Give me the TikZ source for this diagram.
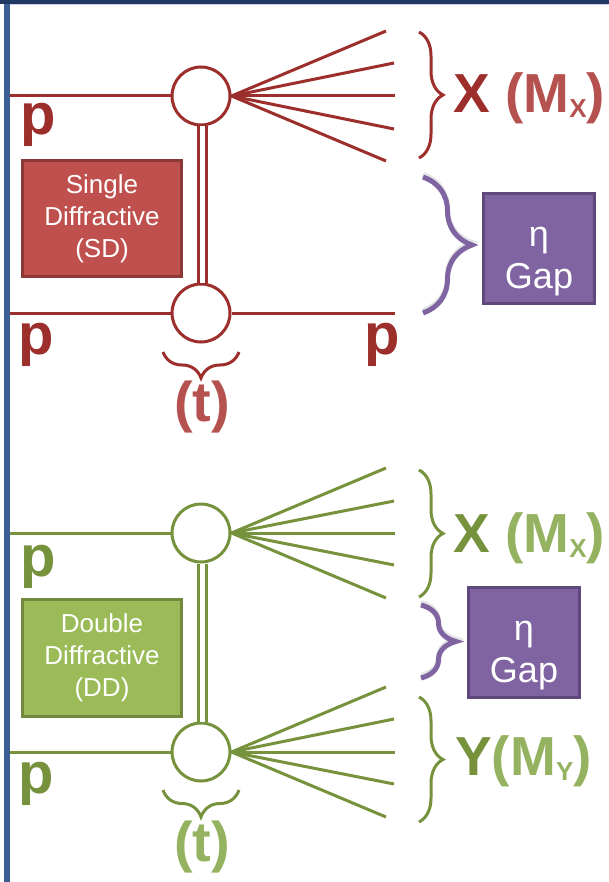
\documentclass[tikz,border=0pt]{standalone}
\usepackage{fontspec}
\setmainfont{Liberation Sans}
\usetikzlibrary{decorations.pathreplacing}
\definecolor{rline}{HTML}{9C2E2C}
\definecolor{rlight}{HTML}{B5524F}
\definecolor{rfill}{HTML}{C0504D}
\definecolor{rborder}{HTML}{8C3836}
\definecolor{gline}{HTML}{76923C}
\definecolor{glight}{HTML}{94B25F}
\definecolor{gfill}{HTML}{9BBB59}
\definecolor{gborder}{HTML}{71893F}
\definecolor{pfill}{HTML}{8064A2}
\definecolor{pborder}{HTML}{5F497A}
\definecolor{framebar}{HTML}{3B5F92}
\definecolor{frametop}{HTML}{1F3864}
\begin{document}
\begin{tikzpicture}[x=1pt,y=-1pt,
  vert/.style={circle,draw,line width=3pt,fill=white,minimum size=58pt,inner sep=0pt},
  beam/.style={line width=3pt},
  pom/.style={line width=3pt,double=white,double distance=5pt},
  infobox/.style={draw,line width=3pt,text=white,align=center,inner sep=0pt,
     font=\fontsize{26}{32}\selectfont},
  gapbox/.style={infobox,fill=pfill,draw=pborder,minimum width=111pt,minimum height=110pt,
     font=\fontsize{36}{42}\selectfont},
  plab/.style={inner sep=0pt,font=\fontsize{58}{60}\selectfont\bfseries},
  tlab/.style={inner sep=0pt,font=\fontsize{56}{60}\selectfont\bfseries},
  xlab/.style={inner sep=0pt,anchor=base west,font=\fontsize{55}{58}\selectfont\bfseries},
  cbrace/.style={decorate,decoration={brace,amplitude=#1}},
]
\useasboundingbox (0,0) rectangle (609,882);
% frame
\fill[framebar] (4,0) rectangle (10,882);
\fill[frametop] (0,0) rectangle (609,4);
\draw[line width=1pt,color=black!15!blue!20] (10,4.5) -- (609,4.5);

% ===== Single diffractive (red) =====
\begin{scope}[draw=rline,color=rline]
\node[vert,draw=rline] (c1) at (201,96) {};
\node[vert,draw=rline] (c2) at (201,313) {};
\coordinate (l1) at (10,96);
\coordinate (l2) at (10,313);
\coordinate (r2) at (395,313);
\draw[beam] (l1) -- (c1.west);
\draw[beam] (l2) -- (c2.west);
\draw[beam] (c2.east) -- (r2);
\draw[pom] ([xshift=1.5pt]c1.south) -- ([xshift=1.5pt]c2.north);
\coordinate (f1) at (386,31);
\coordinate (f2) at (394,63);
\coordinate (f3) at (395,96);
\coordinate (f4) at (394,129);
\coordinate (f5) at (386,161);
\foreach \f in {f1,f2,f3,f4,f5} \draw[beam] (c1.east) -- (\f);
\coordinate (xb1) at (419,32);
\coordinate (xb2) at (419,158);
\draw[cbrace=24pt,line width=3pt] (xb1) -- (xb2);
\coordinate (tb1) at (239,352);
\coordinate (tb2) at (163,352);
\draw[cbrace=26pt,line width=3pt] (tb1) -- (tb2);
\end{scope}
\node[xlab] (xlab1) at (453,113) {\color{rline}X \color{rlight}(M\raisebox{-5pt}{\fontsize{26}{26}\selectfont X})};
\node[plab,text=rline] (p1) at (38.5,125) {p};
\node[plab,text=rline] (p2) at (36.5,345) {p};
\node[plab,text=rline] (p3) at (382.5,345) {p};
\node[tlab,text=rlight] (t1) at (202,407) {(t)};
\node[infobox,fill=rfill,draw=rborder,minimum width=159pt,minimum height=116pt] (sd) at (102,218.5) {Single\\Diffractive\\(SD)};
\coordinate (pb1) at (423,177);
\coordinate (pb2) at (423,313);
\draw[cbrace=49pt,line width=5pt,color=black!30,opacity=0.35] ([shift={(0pt,2.5pt)}]pb1) -- ([shift={(0pt,2.5pt)}]pb2);
\draw[cbrace=49pt,line width=5pt,color=pfill] (pb1) -- (pb2);
\node[gapbox,text depth=0pt] (gap1) at (539,248.5) {\raisebox{2pt}{\parbox{100pt}{\centering η\\Gap}}};

% ===== Double diffractive (green) =====
\begin{scope}[draw=gline,color=gline]
\node[vert,draw=gline] (c3) at (201,533) {};
\node[vert,draw=gline] (c4) at (201,752) {};
\coordinate (l3) at (10,533);
\coordinate (l4) at (10,752);
\draw[beam] (l3) -- (c3.west);
\draw[beam] (l4) -- (c4.west);
\draw[pom] ([xshift=1.5pt]c3.south) -- ([xshift=1.5pt]c4.north);
\coordinate (g1) at (386,468);
\coordinate (g2) at (394,501);
\coordinate (g3) at (395,533);
\coordinate (g4) at (394,565);
\coordinate (g5) at (386,598);
\foreach \f in {g1,g2,g3,g4,g5} \draw[beam] (c3.east) -- (\f);
\coordinate (h1) at (386,687);
\coordinate (h2) at (394,719);
\coordinate (h3) at (395,752);
\coordinate (h4) at (394,784);
\coordinate (h5) at (386,817);
\foreach \f in {h1,h2,h3,h4,h5} \draw[beam] (c4.east) -- (\f);
\coordinate (xb3) at (419,470);
\coordinate (xb4) at (419,597);
\draw[cbrace=24pt,line width=3pt] (xb3) -- (xb4);
\coordinate (yb1) at (419,697);
\coordinate (yb2) at (419,822);
\draw[cbrace=24pt,line width=3pt] (yb1) -- (yb2);
\coordinate (tb3) at (239,790);
\coordinate (tb4) at (163,790);
\draw[cbrace=27pt,line width=3pt] (tb3) -- (tb4);
\end{scope}
\node[xlab] (xlab2) at (453,552) {\color{gline}X \color{glight}(M\raisebox{-5pt}{\fontsize{26}{26}\selectfont X})};
\node[xlab] (ylab) at (455,775) {\color{gline}Y\color{glight}(M\raisebox{-5pt}{\fontsize{26}{26}\selectfont Y})};
\node[plab,text=gline] (p4) at (38.5,567) {p};
\node[plab,text=gline] (p5) at (36.5,784) {p};
\node[tlab,text=glight] (t2) at (202,847) {(t)};
\node[infobox,fill=gfill,draw=gborder,minimum width=159pt,minimum height=117pt] (dd) at (102,658) {Double\\Diffractive\\(DD)};
\coordinate (pb3) at (421,605);
\coordinate (pb4) at (421,678);
\draw[cbrace=35pt,line width=5pt,color=black!30,opacity=0.35] ([shift={(0pt,2.5pt)}]pb3) -- ([shift={(0pt,2.5pt)}]pb4);
\draw[cbrace=35pt,line width=5pt,color=pfill] (pb3) -- (pb4);
\node[gapbox,text depth=0pt] (gap2) at (524,642.5) {\raisebox{2pt}{\parbox{100pt}{\centering η\\Gap}}};
\end{tikzpicture}
\end{document}
